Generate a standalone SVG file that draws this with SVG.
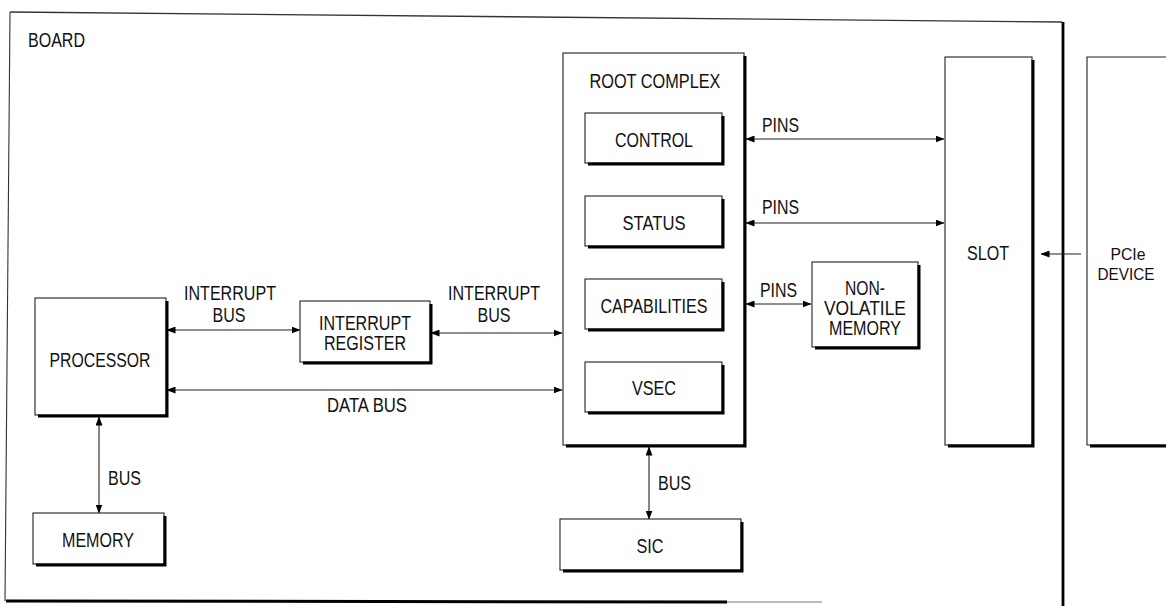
<svg xmlns="http://www.w3.org/2000/svg" width="1166" height="606" viewBox="0 0 1166 606">
<defs>
<marker id="ah" markerUnits="userSpaceOnUse" markerWidth="9" markerHeight="7" refX="8.5" refY="3.5" orient="auto-start-reverse"><path d="M0,0 L9,3.5 L0,7 z" fill="#000"/></marker>
</defs>
<style>
text{font-family:"Liberation Sans",Arial,sans-serif;font-size:20px;fill:#111}
.m{text-anchor:middle}
.box{fill:#fff;stroke:#222;stroke-width:1.1}
.sh{fill:none;stroke:#000;stroke-width:3}
.con{fill:none;stroke:#222;stroke-width:1.1}
</style>
<rect width="1166" height="606" fill="#fff"/>
<g id="board">
<path d="M10,12 L1062,22" fill="none" stroke="#333" stroke-width="1.3"/>
<path d="M10,12 L5,601" fill="none" stroke="#333" stroke-width="1.1"/>
<path d="M1063,22 L1063,606" fill="none" stroke="#000" stroke-width="2.8"/>
<path d="M6,601 L727,602" fill="none" stroke="#000" stroke-width="3"/>
<path d="M727,602 L822,602" fill="none" stroke="#bbb" stroke-width="2"/>
<text x="28" y="47" textLength="57" lengthAdjust="spacingAndGlyphs">BOARD</text>
</g>
<g id="connectors">
<path class="con" d="M167,330 H300" marker-start="url(#ah)" marker-end="url(#ah)"/>
<path class="con" d="M431,333 H562" marker-start="url(#ah)" marker-end="url(#ah)"/>
<path class="con" d="M167,390 H562" marker-start="url(#ah)" marker-end="url(#ah)"/>
<path class="con" d="M99,417 V513" marker-start="url(#ah)" marker-end="url(#ah)"/>
<path class="con" d="M649,447 V519" marker-start="url(#ah)" marker-end="url(#ah)"/>
<path class="con" d="M746,139 H944" marker-start="url(#ah)" marker-end="url(#ah)"/>
<path class="con" d="M746,223 H944" marker-start="url(#ah)" marker-end="url(#ah)"/>
<path class="con" d="M746,304 H811" marker-start="url(#ah)" marker-end="url(#ah)"/>
<path class="con" d="M1081,254 H1041" marker-end="url(#ah)"/>
<text x="230" y="300" class="m" textLength="92" lengthAdjust="spacingAndGlyphs">INTERRUPT</text>
<text x="229" y="322" class="m" textLength="33" lengthAdjust="spacingAndGlyphs">BUS</text>
<text x="494" y="300" class="m" textLength="92" lengthAdjust="spacingAndGlyphs">INTERRUPT</text>
<text x="494" y="322" class="m" textLength="33" lengthAdjust="spacingAndGlyphs">BUS</text>
<text x="367" y="412" class="m" textLength="80" lengthAdjust="spacingAndGlyphs">DATA BUS</text>
<text x="108" y="485" textLength="33" lengthAdjust="spacingAndGlyphs">BUS</text>
<text x="658" y="490" textLength="33" lengthAdjust="spacingAndGlyphs">BUS</text>
<text x="762" y="132" textLength="37" lengthAdjust="spacingAndGlyphs">PINS</text>
<text x="762" y="214" textLength="37" lengthAdjust="spacingAndGlyphs">PINS</text>
<text x="760" y="297" textLength="37" lengthAdjust="spacingAndGlyphs">PINS</text>
</g>
<g id="processor">
<rect class="box" x="35" y="298" width="131" height="117"/>
<path class="sh" d="M38,416 H167 V301"/>
<text x="100" y="367" class="m" textLength="101" lengthAdjust="spacingAndGlyphs">PROCESSOR</text>
</g>
<g id="interrupt-register">
<rect class="box" x="300" y="301" width="130" height="61"/>
<path class="sh" d="M303,363 H431 V304"/>
<text x="365" y="330" class="m" textLength="92" lengthAdjust="spacingAndGlyphs">INTERRUPT</text>
<text x="365" y="350" class="m" textLength="82" lengthAdjust="spacingAndGlyphs">REGISTER</text>
</g>
<g id="memory">
<rect class="box" x="33" y="513" width="131" height="51"/>
<path class="sh" d="M36,565 H165 V516"/>
<text x="98" y="547" class="m" textLength="72" lengthAdjust="spacingAndGlyphs">MEMORY</text>
</g>
<g id="root-complex">
<rect class="box" x="563" y="53" width="181" height="392"/>
<path class="sh" d="M566,446 H745 V56"/>
<text x="655" y="88" class="m" textLength="131" lengthAdjust="spacingAndGlyphs">ROOT COMPLEX</text>
</g>
<g id="control">
<rect class="box" x="585" y="113" width="137" height="50"/>
<path class="sh" d="M588,164 H723 V116"/>
<text x="654" y="147" class="m" textLength="78" lengthAdjust="spacingAndGlyphs">CONTROL</text>
</g>
<g id="status">
<rect class="box" x="585" y="196" width="137" height="50"/>
<path class="sh" d="M588,247 H723 V199"/>
<text x="654" y="230" class="m" textLength="63" lengthAdjust="spacingAndGlyphs">STATUS</text>
</g>
<g id="capabilities">
<rect class="box" x="585" y="279" width="137" height="50"/>
<path class="sh" d="M588,330 H723 V282"/>
<text x="654" y="313" class="m" textLength="107" lengthAdjust="spacingAndGlyphs">CAPABILITIES</text>
</g>
<g id="vsec">
<rect class="box" x="585" y="362" width="137" height="50"/>
<path class="sh" d="M588,413 H723 V365"/>
<text x="654" y="395" class="m" textLength="44" lengthAdjust="spacingAndGlyphs">VSEC</text>
</g>
<g id="non-volatile-memory">
<rect class="box" x="812" y="262" width="106" height="85"/>
<path class="sh" d="M815,348 H919 V265"/>
<text x="865" y="295" class="m" textLength="40" lengthAdjust="spacingAndGlyphs">NON-</text>
<text x="865" y="315" class="m" textLength="82" lengthAdjust="spacingAndGlyphs">VOLATILE</text>
<text x="865" y="335" class="m" textLength="72" lengthAdjust="spacingAndGlyphs">MEMORY</text>
</g>
<g id="slot">
<rect class="box" x="945" y="57" width="87" height="388"/>
<path class="sh" d="M948,446 H1033 V60"/>
<text x="988" y="260" class="m" textLength="42" lengthAdjust="spacingAndGlyphs">SLOT</text>
</g>
<g id="pcie-device">
<path class="box" d="M1166,57 H1087 V445 H1166"/>
<path class="sh" d="M1090,446 H1166"/>
<text x="1128" y="260" class="m" style="font-size:17px" textLength="35" lengthAdjust="spacingAndGlyphs">PCIe</text>
<text x="1126" y="280" class="m" style="font-size:17px" textLength="57" lengthAdjust="spacingAndGlyphs">DEVICE</text>
</g>
<g id="sic">
<rect class="box" x="560" y="519" width="181" height="51"/>
<path class="sh" d="M563,571 H742 V522"/>
<text x="650" y="553" class="m" textLength="27" lengthAdjust="spacingAndGlyphs">SIC</text>
</g>
</svg>
